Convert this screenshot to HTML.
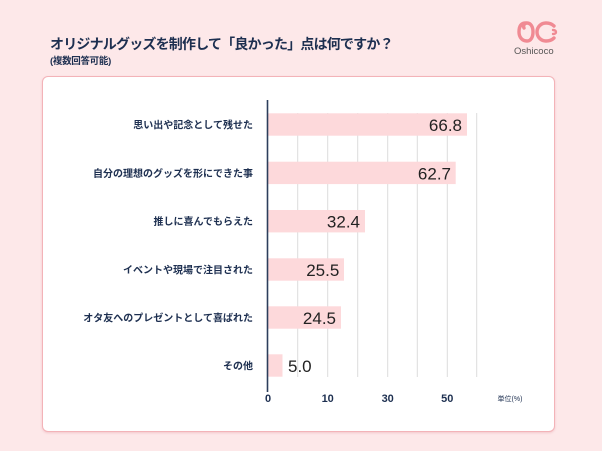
<!DOCTYPE html>
<html><head><meta charset="utf-8"><style>
html,body{margin:0;padding:0;}
body{width:602px;height:451px;background:#fde8e9;position:relative;overflow:hidden;font-family:"Liberation Sans","Noto Sans CJK JP",sans-serif;}
.title{position:absolute;left:50px;top:34px;font-size:14px;font-weight:bold;color:#1d2f50;letter-spacing:-0.8px;white-space:nowrap;line-height:20px;}
.sub{position:absolute;left:50px;top:55px;font-size:9.5px;font-weight:bold;color:#1d2f50;white-space:nowrap;line-height:13px;letter-spacing:-0.3px;}
.card{position:absolute;left:42px;top:76px;width:511px;height:354px;background:#fff;border:1px solid #f3b3b8;border-radius:6px;box-shadow:0 1px 2px rgba(230,150,160,0.4);}
.logo{position:absolute;left:512px;top:18px;width:50px;}
.logotxt{position:absolute;left:514px;top:46px;font-size:9.5px;color:#555;font-family:"Liberation Sans",sans-serif;}
</style></head><body>
<div class="title">オリジナルグッズを制作して「良かった」点は何ですか？</div>
<div class="sub">(複数回答可能)</div>
<svg class="logo" style="position:absolute;left:514px;top:20px" width="44" height="24" viewBox="0 0 44 24">
<path d="M9 3 C3 3 2 8 2 12 C2 17 5 21 10 21 C14 21 16 17 16 12 C16 7 14 3 10 3 C7 3 6 6 7 8" fill="none" stroke="#f08a93" stroke-width="3.4" stroke-linecap="round"/>
<path d="M37 6 C35 4 32 3 29 3 C24 3 20 7 20 12 C20 17 24 21 29 21 C32 21 35 20 37 18" fill="none" stroke="#f08a93" stroke-width="3.4" stroke-linecap="round"/>
<path d="M36 10 C38 10 39 11 39 12 C39 13 38 14 36 14" fill="none" stroke="#f08a93" stroke-width="2.4" stroke-linecap="round"/>
</svg>
<div class="logotxt">Oshicoco</div>
<div class="card"></div>
<svg style="position:absolute;left:0;top:0" width="602" height="451">
<g stroke="#dcdcdc" stroke-width="1">
<line x1="297.7" y1="113" x2="297.7" y2="377"/>
<line x1="327.7" y1="113" x2="327.7" y2="377"/>
<line x1="357.7" y1="113" x2="357.7" y2="377"/>
<line x1="387.7" y1="113" x2="387.7" y2="377"/>
<line x1="417.3" y1="113" x2="417.3" y2="377"/>
<line x1="447.3" y1="113" x2="447.3" y2="377"/>
<line x1="476.7" y1="113" x2="476.7" y2="377"/>
</g>
<g fill="#fdd9db">
<rect x="268" y="113.3" width="199" height="22.4"/>
<rect x="268" y="161.7" width="187.7" height="22.4"/>
<rect x="268" y="210" width="97" height="22.4"/>
<rect x="268" y="258.3" width="76" height="22.4"/>
<rect x="268" y="306.3" width="73" height="22.4"/>
<rect x="268" y="354.3" width="14.5" height="22.4"/>
</g>
<line x1="267.5" y1="100" x2="267.5" y2="392" stroke="#2c3e5c" stroke-width="1.6"/>
<g font-family="Liberation Sans, sans-serif" font-size="17" fill="#222" text-anchor="end">
<text x="462" y="131">66.8</text>
<text x="451" y="179.3">62.7</text>
<text x="360" y="227.6">32.4</text>
<text x="339.3" y="275.9">25.5</text>
<text x="336" y="323.9">24.5</text>
<text x="288" y="371.9" text-anchor="start">5.0</text>
</g>
<g font-family="Liberation Sans, Noto Sans CJK JP, sans-serif" font-size="10" font-weight="bold" fill="#1d2f50" text-anchor="end">
<text x="253" y="128.5">思い出や記念として残せた</text>
<text x="253" y="176.8">自分の理想のグッズを形にできた事</text>
<text x="253" y="225.1">推しに喜んでもらえた</text>
<text x="253" y="273.4">イベントや現場で注目された</text>
<text x="253" y="321.4">オタ友へのプレゼントとして喜ばれた</text>
<text x="253" y="369.4">その他</text>
</g>
<g font-family="Liberation Sans, sans-serif" font-size="11" font-weight="bold" fill="#1d2f50" text-anchor="middle">
<text x="268" y="402">0</text>
<text x="327.7" y="402">10</text>
<text x="387.7" y="402">30</text>
<text x="447.3" y="402">50</text>
</g>
<text x="510" y="401" font-family="Liberation Sans, Noto Sans CJK JP, sans-serif" font-size="7" fill="#1d2f50" text-anchor="middle">単位(%)</text>
</svg>
</body></html>
